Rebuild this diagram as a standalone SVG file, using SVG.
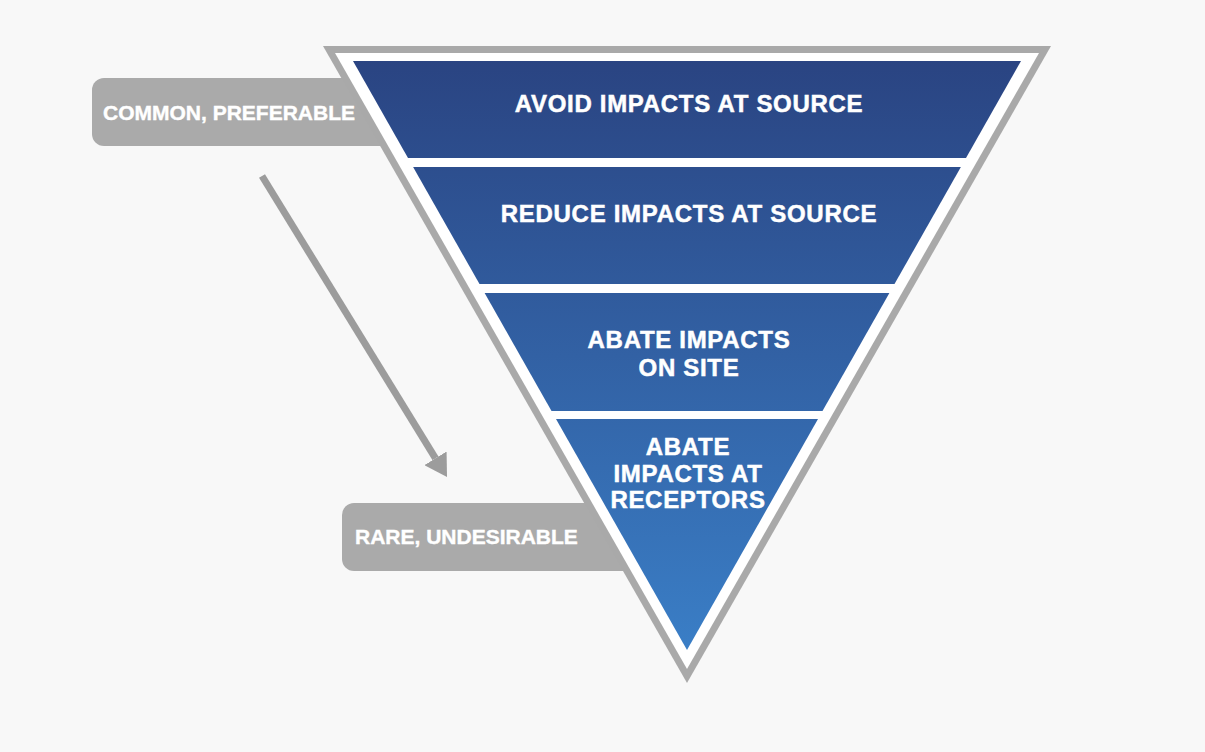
<svg xmlns="http://www.w3.org/2000/svg" width="1205" height="752" viewBox="0 0 1205 752">
  <defs>
    <linearGradient id="tierFill" gradientUnits="userSpaceOnUse" x1="0" y1="61" x2="0" y2="650">
      <stop offset="0" stop-color="#2a4482"/>
      <stop offset="1" stop-color="#3a7ec6"/>
    </linearGradient>
    <marker id="arrowHead" markerUnits="userSpaceOnUse" viewBox="0 0 22 26" refX="0" refY="13" markerWidth="22" markerHeight="26" orient="auto">
      <polygon points="0,0 22,13 0,26" fill="#9c9c9c"/>
    </marker>
    <style>
      .tag { fill: #aaaaaa; }
      .tagText { font-family: "Liberation Sans", Arial, sans-serif; font-weight: bold; font-size: 21px; fill: #ffffff; stroke: #ffffff; stroke-width: 0.4px; }
      .tier { fill: url(#tierFill); }
      .tierText { font-family: "Liberation Sans", Arial, sans-serif; font-weight: bold; font-size: 24px; letter-spacing: 0.7px; fill: #ffffff; stroke: #ffffff; stroke-width: 0.5px; text-anchor: middle; }
      .link { stroke: #9c9c9c; stroke-width: 7; fill: none; }
    </style>
  </defs>

  <rect width="1205" height="752" fill="#f8f8f8"/>

  <!-- side tags, tucked under the funnel -->
  <g id="tag-common">
    <rect class="tag" x="92" y="78" width="340" height="68" rx="12"/>
    <text class="tagText" x="103" y="120">COMMON, PREFERABLE</text>
  </g>
  <g id="tag-rare">
    <rect class="tag" x="342" y="503" width="318" height="68" rx="12"/>
    <text class="tagText" x="355" y="544">RARE, UNDESIRABLE</text>
  </g>

  <!-- funnel frame: grey rim and white gap -->
  <g id="frame">
    <polygon points="323,46 1051,46 687,683" fill="#a9a9a9"/>
    <polygon points="335,53 1039,53 687,669" fill="#ffffff"/>
  </g>

  <!-- hierarchy tiers -->
  <g id="tier-avoid">
    <polygon class="tier" points="353,61 1021,61 966,158 408,158"/>
    <text class="tierText" x="689" y="112">AVOID IMPACTS AT SOURCE</text>
  </g>
  <g id="tier-reduce">
    <polygon class="tier" points="413.1,167 960.9,167 894.5,284 479.5,284"/>
    <text class="tierText" x="689" y="222">REDUCE IMPACTS AT SOURCE</text>
  </g>
  <g id="tier-abate-site">
    <polygon class="tier" points="484.6,293 889.4,293 822.5,411 551.5,411"/>
    <text class="tierText" x="689" y="348">ABATE IMPACTS</text>
    <text class="tierText" x="689" y="376">ON SITE</text>
  </g>
  <g id="tier-abate-receptors">
    <polygon class="tier" points="556,419 818,419 687,650"/>
    <text class="tierText" x="688" y="455">ABATE</text>
    <text class="tierText" x="688" y="482">IMPACTS AT</text>
    <text class="tierText" x="688" y="508">RECEPTORS</text>
  </g>

  <!-- connectors -->
  <g id="connectors">
    <line class="link" x1="262" y1="176" x2="435.5" y2="458.3" marker-end="url(#arrowHead)"/>
  </g>
</svg>
